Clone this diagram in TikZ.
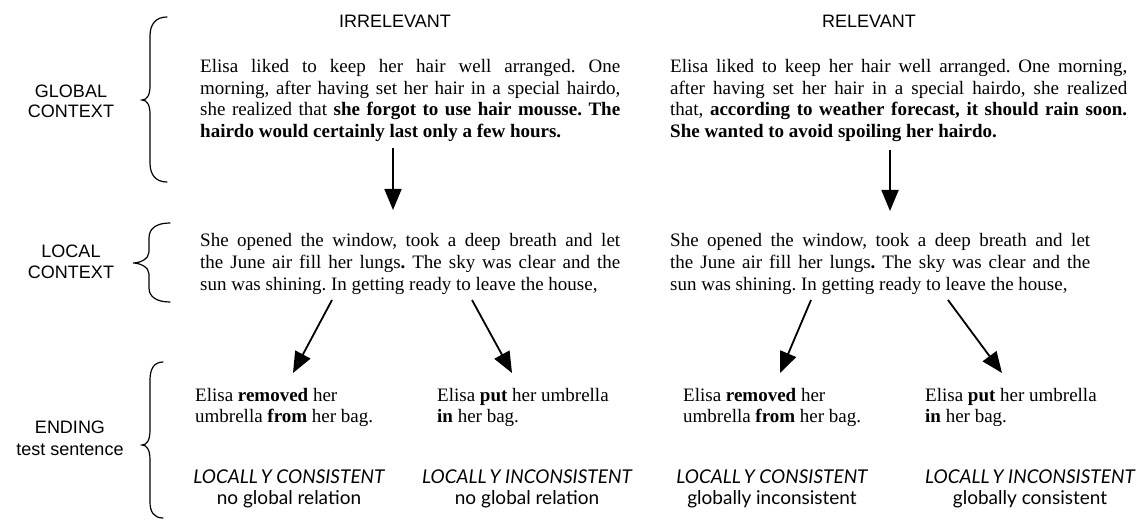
\documentclass[tikz,border=0pt]{standalone}
\usepackage{fontspec}
\setmainfont{Liberation Serif}
\newfontfamily\arialf{Liberation Sans}
\newfontfamily\gillf{Lato}
\usetikzlibrary{arrows.meta}
\newcommand\jline[2]{\makebox[#1][s]{#2}}
\frenchspacing
\tikzset{
 body/.style={anchor=base west, inner sep=0pt, font=\fontsize{19}{21.5}\selectfont},
 head/.style={anchor=base, inner sep=0pt, font=\arialf\fontsize{18}{21}\selectfont},
 side/.style={anchor=base, inner sep=0pt, font=\arialf\fontsize{18}{20}\selectfont},
 verdict/.style={anchor=base, inner sep=0pt, font=\gillf\itshape\fontsize{19}{21}\selectfont},
 relation/.style={anchor=base, inner sep=0pt, font=\gillf\fontsize{19}{21}\selectfont},
 arr/.style={line width=1.8pt, -{Triangle[length=21pt,width=17pt]}},
 bracestyle/.style={line width=1.2pt, line cap=round},
}
\begin{document}
\begin{tikzpicture}[x=1pt,y=-1pt]
\useasboundingbox (0,0) rectangle (1145,521);

% headings
\node[head] (hirr) at (395,28) {IRRELEVANT};
\node[head] (hrel) at (869,28) {RELEVANT};

% side labels
\node[side] (g1) at (71,98) {GLOBAL};
\node[side] (g2) at (71,118) {CONTEXT};
\node[side] (l1) at (71,258) {LOCAL};
\node[side] (l2) at (71,278) {CONTEXT};
\node[side] (e1) at (70,433) {ENDING};
\node[side] (e2) at (70,455) {test sentence};

% braces
\draw[bracestyle] (167,17) .. controls (156,17) and (150,24) .. (150,36) -- (150,86)
  .. controls (150,95) and (147,100) .. (142,100)
  .. controls (147,100) and (150,105) .. (150,114) -- (150,163)
  .. controls (150,175) and (156,182) .. (167,182);
\draw[bracestyle] (170,223) .. controls (157,223) and (149,228) .. (149,238) -- (149,252)
  .. controls (149,259) and (140,263) .. (133,263)
  .. controls (140,263) and (149,267) .. (149,274) -- (149,288)
  .. controls (149,297) and (157,302) .. (170,302);
\draw[bracestyle] (163,362) .. controls (154,362) and (150,369) .. (150,380) -- (150,430)
  .. controls (150,440) and (147,445) .. (142,445)
  .. controls (147,445) and (150,450) .. (150,460) -- (150,502)
  .. controls (150,512) and (154,518) .. (163,518);

% global context, irrelevant
\node[body] (gi1) at (200,73) {\jline{420pt}{Elisa liked to keep her hair well arranged. One}};
\node[body] (gi2) at (200,94.5) {\jline{420pt}{morning, after having set her hair in a special hairdo,}};
\node[body] (gi3) at (200,116) {\jline{420pt}{she realized that \textbf{she forgot to use hair mousse. The}}};
\node[body] (gi4) at (200,137.5) {\textbf{hairdo would certainly last only a few hours.}};

% global context, relevant
\node[body] (gr1) at (670,73) {\jline{457pt}{Elisa liked to keep her hair well arranged. One morning,}};
\node[body] (gr2) at (670,94.5) {\jline{457pt}{after having set her hair in a special hairdo, she realized}};
\node[body] (gr3) at (670,116) {\jline{457pt}{that, \textbf{according to weather forecast, it should rain soon.}}};
\node[body] (gr4) at (670,137.5) {\textbf{She wanted to avoid spoiling her hairdo.}};

% local context, left
\node[body] (li1) at (200,247) {\jline{420pt}{She opened the window, took a deep breath and let}};
\node[body] (li2) at (200,268.5) {\jline{420pt}{the June air fill her lungs\textbf{.} The sky was clear and the}};
\node[body] (li3) at (200,290) {sun was shining. In getting ready to leave the house,};

% local context, right
\node[body] (lr1) at (670,247) {\jline{420pt}{She opened the window, took a deep breath and let}};
\node[body] (lr2) at (670,268.5) {\jline{420pt}{the June air fill her lungs\textbf{.} The sky was clear and the}};
\node[body] (lr3) at (670,290) {sun was shining. In getting ready to leave the house,};

% endings
\node[body] (ea1) at (195,401) {Elisa \textbf{removed} her};
\node[body] (ea2) at (195,422.5) {umbrella \textbf{from} her bag.};
\node[body] (eb1) at (437,401) {Elisa \textbf{put} her umbrella};
\node[body] (eb2) at (437,422.5) {\textbf{in} her bag.};
\node[body] (ec1) at (683,401) {Elisa \textbf{removed} her};
\node[body] (ec2) at (683,422.5) {umbrella \textbf{from} her bag.};
\node[body] (ed1) at (925,401) {Elisa \textbf{put} her umbrella};
\node[body] (ed2) at (925,422.5) {\textbf{in} her bag.};

% verdicts
\node[verdict] (va) at (289,483) {LOCALL\kern3pt Y CONSISTENT};
\node[relation] (ra) at (289,504) {no global relation};
\node[verdict] (vb) at (527,483) {LOCALL\kern3pt Y INCONSISTENT};
\node[relation] (rb) at (527,504) {no global relation};
\node[verdict] (vc) at (772,483) {LOCALL\kern3pt Y CONSISTENT};
\node[relation] (rc) at (772,504) {globally inconsistent};
\node[verdict] (vd) at (1030,483) {LOCALL\kern3pt Y INCONSISTENT};
\node[relation] (rd) at (1030,504) {globally consistent};

% arrow end points
\coordinate (a1s) at (393,148); \coordinate (a1e) at (393,210);
\coordinate (a2s) at (890,150); \coordinate (a2e) at (890,211);
\coordinate (a3s) at (332,300); \coordinate (a3e) at (293,373);
\coordinate (a4s) at (472,300); \coordinate (a4e) at (512,373);
\coordinate (a5s) at (811,300); \coordinate (a5e) at (780,373);
\coordinate (a6s) at (948,300); \coordinate (a6e) at (1002,373);

\draw[arr] (a1s) -- (a1e);
\draw[arr] (a2s) -- (a2e);
\draw[arr] (a3s) -- (a3e);
\draw[arr] (a4s) -- (a4e);
\draw[arr] (a5s) -- (a5e);
\draw[arr] (a6s) -- (a6e);
\end{tikzpicture}
\end{document}
